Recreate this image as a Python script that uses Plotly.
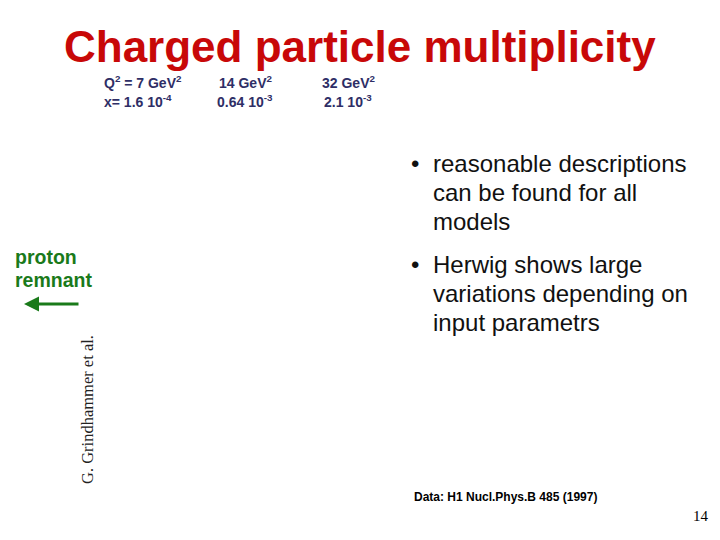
import plotly.graph_objects as go

# Slide text content
title = "Charged particle multiplicity"
q2_labels = ["Q<sup>2</sup> = 7 GeV<sup>2</sup>", "14 GeV<sup>2</sup>", "32 GeV<sup>2</sup>"]
x_labels = ["x= 1.6 10<sup>-4</sup>", "0.64 10<sup>-3</sup>", "2.1 10<sup>-3</sup>"]
bullet1 = ["reasonable descriptions", "can be found for all", "models"]
bullet2 = ["Herwig shows large", "variations depending on", "input parametrs"]
remnant = ["proton", "remnant"]
credit = "G. Grindhammer et al."
source = "Data: H1 Nucl.Phys.B 485 (1997)"
page = "14"

# page body has an 8px margin, so the figure is shifted; work in window pixels
OFF = 8

fig = go.Figure()

ann = []
navy = "#2e2e66"
sans = "Liberation Sans, Arial"
serif = "Liberation Serif, Times New Roman"

ann.append(dict(x=360, y=46, text="<b>" + title + "</b>", xanchor="center", yanchor="middle",
                font=dict(family=sans, size=44, color="#c80808")))

# Q2 / x column headers
col_x = [102, 245, 348]
col_anchor = ["left", "center", "center"]
for cx, anc, q, xv in zip(col_x, col_anchor, q2_labels, x_labels):
    ann.append(dict(x=cx, y=82, text="<b>" + q + "</b>", xanchor=anc, yanchor="middle",
                    font=dict(family=sans, size=14, color=navy)))
    ann.append(dict(x=cx, y=101, text="<b>" + xv + "</b>", xanchor=anc, yanchor="middle",
                    font=dict(family=sans, size=14, color=navy)))

# bullet text
for start, lines in [(163, bullet1), (264, bullet2)]:
    ann.append(dict(x=409, y=start, text="•", xanchor="left", yanchor="middle",
                    font=dict(family=sans, size=24, color="#111111")))
    for i, line in enumerate(lines):
        ann.append(dict(x=431, y=start + 29 * i, text=line,
                        xanchor="left", yanchor="middle",
                        font=dict(family=sans, size=24, color="#111111")))

green = "#1a7a1a"
for i, line in enumerate(remnant):
    ann.append(dict(x=13, y=257 + 23 * i, text="<b>" + line + "</b>", xanchor="left", yanchor="middle",
                    font=dict(family=sans, size=19.5, color=green)))

# arrow pointing left
ann.append(dict(x=24, y=304, ax=80, ay=304, xref="x", yref="y", axref="x", ayref="y",
                text="", showarrow=True, arrowhead=2, arrowsize=1, arrowwidth=3, arrowcolor=green))

ann.append(dict(x=87, y=410, text=credit, textangle=-90, xanchor="center", yanchor="middle",
                font=dict(family=serif, size=16.5, color="#222222")))

ann.append(dict(x=412, y=497, text="<b>" + source + "</b>", xanchor="left", yanchor="middle",
                font=dict(family=sans, size=12, color="#000000")))

ann.append(dict(x=711, y=516, text=page, xanchor="right", yanchor="middle",
                font=dict(family=serif, size=15, color="#000000")))

for a in ann:
    a.setdefault("xref", "x")
    a.setdefault("yref", "y")
    a.setdefault("showarrow", False)

fig.update_layout(
    width=720 - 2 * OFF, height=540 - 2 * OFF,
    margin=dict(l=0, r=0, t=0, b=0),
    paper_bgcolor="white", plot_bgcolor="white",
    xaxis=dict(range=[OFF, 720 - OFF], visible=False, fixedrange=True),
    yaxis=dict(range=[540 - OFF, OFF], visible=False, fixedrange=True),
    annotations=ann,
    showlegend=False,
)

fig.write_html("out.html")
